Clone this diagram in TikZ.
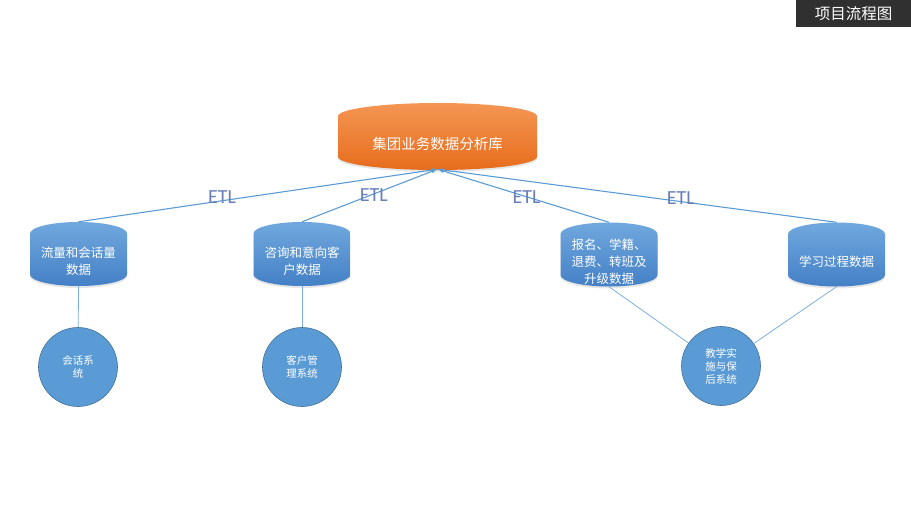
\documentclass[tikz,border=0pt]{standalone}
\usepackage{fontspec}
\newfontfamily\cjk{Noto Sans CJK SC}
\newfontfamily\etlfont{Carlito}
\usetikzlibrary{shapes.geometric,arrows.meta,shadows}

\definecolor{orangetop}{RGB}{244,150,84}
\definecolor{orangebot}{RGB}{231,108,28}
\definecolor{bluetop}{RGB}{112,168,222}
\definecolor{bluebot}{RGB}{68,128,198}
\definecolor{sysblue}{RGB}{91,155,213}
\definecolor{sysedge}{RGB}{65,113,156}
\definecolor{etlblue}{RGB}{106,126,186}
\definecolor{titlegray}{RGB}{48,48,48}

\begin{document}
\begin{tikzpicture}[x=1pt,y=-1pt,
    db/.style={cylinder, shape border rotate=90, aspect=0.3, draw=none,
        anchor=shape center, inner sep=1pt, align=center, text=white, font=\cjk,
        drop shadow={opacity=0.2, shadow xshift=0pt, shadow yshift=-2pt}},
    src/.style={db, top color=bluetop, bottom color=bluebot,
        minimum width=97pt, minimum height=64pt, font=\cjk\fontsize{12.5}{17}\selectfont},
    sys/.style={circle, fill=sysblue, draw=sysedge, line width=0.6pt,
        minimum size=79pt, inner sep=0pt, align=center, text=white,
        font=\cjk\fontsize{10.5}{13}\selectfont},
    etl/.style={-{Latex[length=6pt,width=4pt]}, sysblue, line width=1.1pt},
    etltext/.style={text=etlblue, font=\etlfont\fontsize{20}{20}\selectfont},
    feed/.style={sysblue!80, line width=0.8pt}]
    \useasboundingbox (0,0) rectangle (911,525);

    \node[fill=titlegray, text=white, minimum width=115pt, minimum height=27pt,
        font=\cjk\fontsize{15.5}{17}\selectfont] (title) at (853.5,13.5) {项目流程图};

    \node[db, top color=orangetop, bottom color=orangebot, aspect=0.2, minimum width=199pt,
        minimum height=67pt, font=\cjk\fontsize{14.5}{17}\selectfont] (store) at (437.5,136.5) {集团业务数据分析库};

    \node[src] (flow) at (78.5,254) {流量和会话量\\数据};
    \node[src] (consult) at (302,254) {咨询和意向客\\户数据};
    \node[src, inner ysep=-9pt] (enroll) at (609,254.5) {报名、学籍、\\退费、转班及\\升级数据};
    \node[src] (study) at (836.5,254.5) {学习过程数据};

    \node[sys] (chatsys) at (78,367) {会话系\\统};
    \node[sys] (crmsys) at (302,367) {客户管\\理系统};
    \node[sys] (teachsys) at (721,366) {教学实\\施与保\\后系统};

    \coordinate (inlet) at ([yshift=1pt]store.south);
    \draw[etl] (flow.north) -- node[pos=0.4, etltext, yshift=4pt] {ETL} (inlet);
    \draw[etl] (consult.north) -- node[pos=0.53, etltext, yshift=-1pt] {ETL} (inlet);
    \draw[etl] (enroll.north) -- node[pos=0.48, etltext] {ETL} (inlet);
    \draw[etl] (study.north) -- node[pos=0.39, etltext, yshift=4pt] {ETL} (inlet);

    \draw[feed] (flow.south) -- (chatsys);
    \draw[feed] (consult.south) -- (crmsys);
    \draw[feed] (enroll.south) -- (teachsys);
    \draw[feed] (study.south) -- (teachsys);
\end{tikzpicture}
\end{document}
